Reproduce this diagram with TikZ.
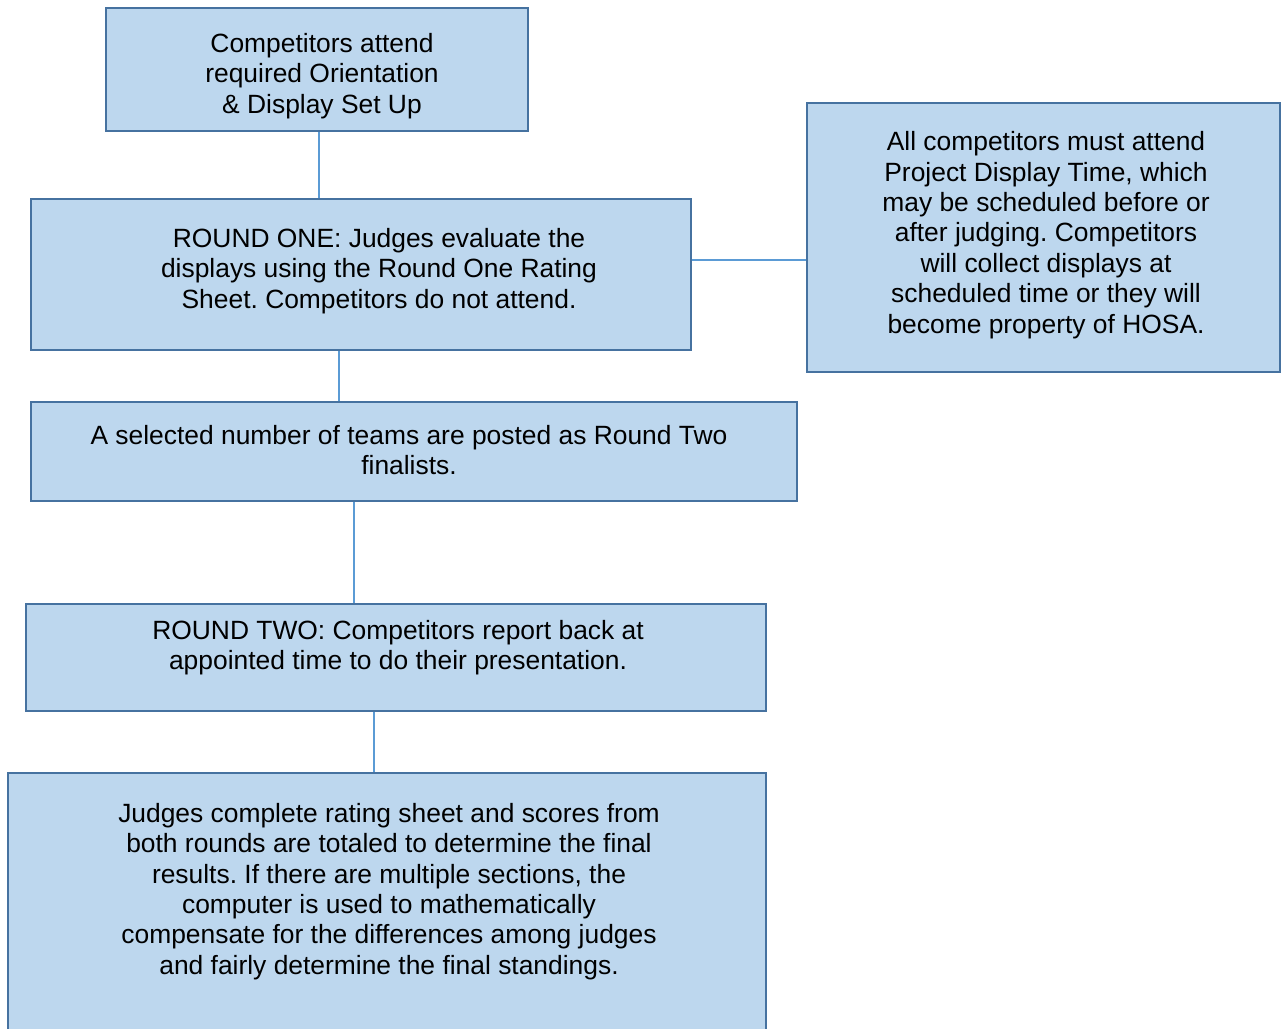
\documentclass[tikz,border=0pt]{standalone}
\usepackage{fontspec}
\setmainfont{Liberation Sans}
\definecolor{boxfill}{HTML}{BDD7EE}
\definecolor{boxline}{HTML}{4672A0}
\definecolor{conn}{HTML}{5B9BD5}
\frenchspacing
\begin{document}
\begin{tikzpicture}[x=1pt,y=-1pt,
  box/.style={draw=boxline, fill=boxfill, line width=2.5pt, rectangle, inner sep=0pt},
  txt/.style={align=center, inner sep=0pt, font=\fontsize{26.4}{30.4}\selectfont},
  link/.style={draw=conn, line width=1.2pt}]
\useasboundingbox (0,0) rectangle (1281,1028);
\clip (0,0) rectangle (1281,1028);
% boxes
\node[box, minimum width=422pt, minimum height=123pt] (b1) at (317,69.5) {};
\node[box, minimum width=660pt, minimum height=151pt] (b2) at (361,274.5) {};
\node[box, minimum width=473pt, minimum height=269pt] (bR) at (1043.5,237.5) {};
\node[box, minimum width=766pt, minimum height=99pt] (b3) at (414,451.5) {};
\node[box, minimum width=740pt, minimum height=107pt] (b4) at (396,657.5) {};
\node[box, minimum width=758pt, minimum height=280pt] (b5) at (387,913) {};
% texts
\node[txt] (t1) at (322,76) {Competitors attend\\required Orientation\\\& Display Set Up};
\node[txt] (t2) at (379,271) {ROUND ONE: Judges evaluate the\\displays using the Round One Rating\\Sheet. Competitors do not attend.};
\node[txt] (tR) at (1046,235) {All competitors must attend\\Project Display Time, which\\may be scheduled before or\\after judging. Competitors\\will collect displays at\\scheduled time or they will\\become property of HOSA.};
\node[txt] (t3) at (409,450) {A selected number of teams are posted as Round Two\\finalists.};
\node[txt] (t4) at (398,647.5) {ROUND TWO: Competitors report back at\\appointed time to do their presentation.};
\node[txt] (t5) at (389,891.5) {Judges complete rating sheet and scores from\\both rounds are totaled to determine the final\\results. If there are multiple sections, the\\computer is used to mathematically\\compensate for the differences among judges\\and fairly determine the final standings.};
% connectors
\coordinate (c1) at (319,0);
\draw[link] (b1.south -| c1) -- (b2.north -| c1);
\coordinate (c2) at (339,0);
\draw[link] (b2.south -| c2) -- (b3.north -| c2);
\coordinate (c3) at (354,0);
\draw[link] (b3.south -| c3) -- (b4.north -| c3);
\coordinate (c4) at (374,0);
\draw[link] (b4.south -| c4) -- (b5.north -| c4);
\coordinate (c5) at (0,260);
\draw[link] (b2.east |- c5) -- (bR.west |- c5);
\end{tikzpicture}
\end{document}
